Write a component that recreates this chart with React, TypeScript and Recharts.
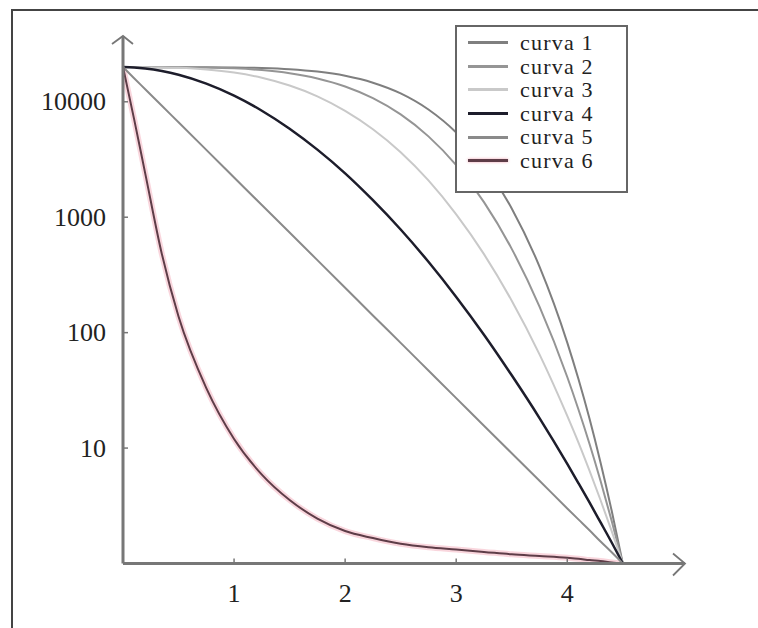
import { LineChart, Line, XAxis, YAxis, Legend, ReferenceDot } from 'recharts';

// eje x compartido
const xs = [0, 0.1, 0.2, 0.35, 0.5, 0.75, 1, 1.25, 1.5, 1.75, 2, 2.25, 2.5, 2.75, 3, 3.25, 3.5, 3.75, 4, 4.1, 4.2, 4.3, 4.4, 4.5];

const curva1 = [20000, 20000, 20000, 19950, 19950, 19920, 19850, 19630, 19160, 18270, 16810, 14640, 11820, 8575, 5415, 2852, 1192, 373, 82, 39.8, 18, 7.47, 2.86, 1];
const curva2 = [20000, 20000, 20000, 19950, 19920, 19800, 19480, 18810, 17660, 15910, 13560, 10750, 7770, 5015, 2825, 1350, 532, 168, 41.3, 21.7, 10.9, 5.18, 2.34, 1];
const curva3 = [20000, 19950, 19950, 19860, 19680, 19050, 17910, 16140, 13830, 11150, 8350, 5790, 3660, 2085, 1060, 479, 189, 64.9, 19, 11.2, 6.37, 3.53, 1.91, 1];
const curva4 = [20000, 19800, 19400, 18450, 17140, 14350, 11300, 8370, 5850, 3850, 2400, 1405, 783, 411, 204, 96, 42.7, 18.2, 7.3, 4.98, 3.38, 2.27, 1.52, 1];
const curva5 = [20000, 16000, 12850, 9240, 6640, 3830, 2210, 1275, 736, 425, 245, 141, 81.5, 47, 27.1, 15.6, 9.03, 5.21, 3.0, 2.41, 1.94, 1.55, 1.25, 1];
const curva6 = [20000, 7080, 2400, 479, 138, 33.1, 12.0, 5.89, 3.55, 2.45, 1.91, 1.66, 1.48, 1.38, 1.32, 1.26, 1.2, 1.16, 1.12, 1.1, 1.07, 1.05, 1.02, 1];

const xTicks = [1, 2, 3, 4];
const yTicks = [10, 100, 1000, 10000];
const X_MAX = 5.06;
const Y_MAX = 37150;

const SERIES = [
  { key: 'c1', name: 'curva 1', color: '#7f7f7f', width: 2 },
  { key: 'c2', name: 'curva 2', color: '#959595', width: 2 },
  { key: 'c3', name: 'curva 3', color: '#c9c9c9', width: 2 },
  { key: 'c4', name: 'curva 4', color: '#1d1d2b', width: 2.5 },
  { key: 'c5', name: 'curva 5', color: '#8a8a8a', width: 2 },
  { key: 'c6', name: 'curva 6', color: '#5e3d48', width: 2 },
];

const data = xs.map((x, i) => ({
  x,
  c1: curva1[i],
  c2: curva2[i],
  c3: curva3[i],
  c4: curva4[i],
  c5: curva5[i],
  c6: curva6[i],
}));

const FONT = "'Liberation Serif', 'DejaVu Serif', serif";
const AXIS = '#777';

function XTick(props: any) {
  const { x, y, payload } = props;
  return (
    <g>
      <line x1={x} y1={y} x2={x} y2={y - 5} stroke={AXIS} strokeWidth={1.5} />
      <text x={x} y={y + 30} textAnchor="middle" dominantBaseline="central" fontFamily={FONT} fontSize={26} fill="#222">
        {payload.value}
      </text>
    </g>
  );
}

function YTick(props: any) {
  const { x, y, payload } = props;
  return (
    <g>
      <line x1={x} y1={y} x2={x + 5} y2={y} stroke={AXIS} strokeWidth={1.5} />
      <text x={x - 17} y={y} textAnchor="end" dominantBaseline="central" fontFamily={FONT} fontSize={26} fill="#222">
        {payload.value}
      </text>
    </g>
  );
}

// puntas de flecha de los ejes
const arrowRight = (p: any) => (
  <path d={`M${p.cx - 12},${p.cy - 10} L${p.cx},${p.cy} L${p.cx - 12},${p.cy + 12}`} fill="none" stroke={AXIS} strokeWidth={1.8} />
);
const arrowUp = (p: any) => (
  <path d={`M${p.cx - 11},${p.cy + 8} L${p.cx},${p.cy} L${p.cx + 10},${p.cy + 8}`} fill="none" stroke={AXIS} strokeWidth={1.8} />
);

function LegendBox() {
  return (
    <div
      style={{
        boxSizing: 'border-box',
        width: 173,
        height: 168,
        border: '2px solid #666',
        background: '#fff',
        paddingTop: 4,
        fontFamily: FONT,
        fontSize: 22,
        letterSpacing: 1.2,
        color: '#222',
      }}
    >
      {SERIES.map(s => (
        <div key={s.key} style={{ display: 'flex', alignItems: 'center', height: 23.6, overflow: 'hidden' }}>
          <span
            style={{
              display: 'inline-block',
              width: 40,
              height: 3,
              marginLeft: 11,
              marginRight: 12,
              background: s.color,
              boxShadow: s.key === 'c6' ? '0 0 3px #f0a0b0' : undefined,
            }}
          />
          <span style={{ lineHeight: '23.6px', whiteSpace: 'nowrap' }}>{s.name}</span>
        </div>
      ))}
    </div>
  );
}

export default function App() {
  return (
    <div style={{ position: 'absolute', left: 0, top: 0, width: 758, height: 628, background: '#fff' }}>
      <div
        style={{
          position: 'absolute',
          left: 11,
          top: 9,
          width: 747,
          height: 619,
          borderLeft: '2px solid #444',
          borderTop: '2px solid #444',
        }}
      />
      <LineChart
        width={758}
        height={628}
        data={data}
        margin={{ top: 36, right: 73, bottom: 24.5, left: 43 }}
        style={{ position: 'absolute', left: 0, top: 0 }}
      >
        <XAxis
          type="number"
          dataKey="x"
          domain={[0, X_MAX]}
          ticks={xTicks}
          height={40}
          tickSize={0}
          tickMargin={0}
          tickLine={false}
          axisLine={{ stroke: AXIS, strokeWidth: 3 }}
          tick={(p: any) => <XTick {...p} />}
          allowDataOverflow
        />
        <YAxis
          type="number"
          scale="log"
          domain={[1, Y_MAX]}
          ticks={yTicks}
          width={80}
          tickSize={0}
          tickMargin={0}
          tickLine={false}
          axisLine={{ stroke: AXIS, strokeWidth: 3 }}
          tick={(p: any) => <YTick {...p} />}
          allowDataOverflow
        />
        <Legend
          layout="vertical"
          align="center"
          verticalAlign="middle"
          wrapperStyle={{ left: 455, top: 25, width: 173, height: 168 }}
          content={() => <LegendBox />}
        />
        {/* halo rosado de la curva 6 */}
        <Line
          dataKey="c6"
          type="monotone"
          stroke="#f2a5b4"
          strokeOpacity={0.45}
          strokeWidth={6}
          dot={false}
          legendType="none"
          isAnimationActive={false}
        />
        {SERIES.map(s => (
          <Line
            key={s.key}
            dataKey={s.key}
            name={s.name}
            type="monotone"
            stroke={s.color}
            strokeWidth={s.width}
            dot={false}
            isAnimationActive={false}
          />
        ))}
        <ReferenceDot x={X_MAX} y={1} r={0} ifOverflow="visible" shape={arrowRight} />
        <ReferenceDot x={0} y={Y_MAX} r={0} ifOverflow="visible" shape={arrowUp} />
      </LineChart>
    </div>
  );
}
